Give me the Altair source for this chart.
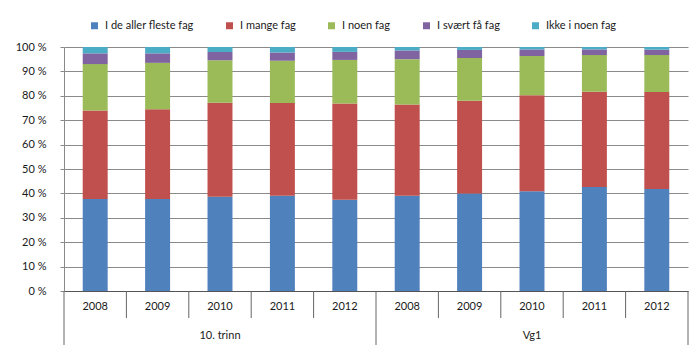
import altair as alt
import pandas as pd

groups = ["10. trinn", "Vg1"]
years = ["2008", "2009", "2010", "2011", "2012"]
categories = ["I de aller fleste fag", "I mange fag", "I noen fag", "I svært få fag", "Ikke i noen fag"]
colors = ["#4F81BD", "#C0504D", "#9BBB59", "#8064A2", "#4BACC6"]

# values per bar, order: 10. trinn 2008..2012, Vg1 2008..2012 (percent)
fleste = [37.7, 37.7, 38.6, 39.0, 37.4, 39.0, 40.0, 40.9, 42.6, 41.8]
mange = [36.3, 36.8, 38.6, 38.0, 39.4, 37.4, 38.0, 39.3, 39.1, 39.8]
noen = [19.0, 19.0, 17.4, 17.4, 17.9, 18.6, 17.5, 16.1, 15.0, 15.1]
svaert = [4.4, 3.9, 3.4, 3.3, 3.3, 3.6, 3.3, 2.7, 2.3, 2.2]
ingen = [2.6, 2.6, 2.0, 2.3, 2.0, 1.4, 1.2, 1.0, 1.0, 1.1]
y_ticks = [0, 10, 20, 30, 40, 50, 60, 70, 80, 90, 100]

series = [fleste, mange, noen, svaert, ingen]
keys = [f"{g} {y}" for g in groups for y in years]

rows = []
for ci, (cat, vals) in enumerate(zip(categories, series)):
    for ki, k in enumerate(keys):
        rows.append({"key": k, "category": cat, "value": vals[ki], "ord": ci})
bars_df = pd.DataFrame(rows)

lab_rows = []
for g in groups:
    for y in years:
        lab_rows.append({"key": f"{g} {y}", "group": g, "year": y, "first": y == years[0],
                         "mid": y == years[len(years) // 2]})
lab_df = pd.DataFrame(lab_rows)

W, H = 624, 244
FONT = "Lato"
x_text = dict(axis=None, scale=alt.Scale(domain=keys, type="point", padding=0.5))
x_rule = dict(axis=None, scale=alt.Scale(domain=keys, type="band", paddingInner=0, paddingOuter=0))

bars = alt.Chart(bars_df).mark_bar().encode(
    x=alt.X("key:N", title=None,
            scale=alt.Scale(domain=keys, paddingInner=0.6, paddingOuter=0.3),
            axis=alt.Axis(labels=False, ticks=False, domainColor="#555555", domainWidth=1)),
    y=alt.Y("value:Q", stack="zero", title=None,
            scale=alt.Scale(domain=[0, 100], nice=False),
            axis=alt.Axis(values=y_ticks, labelExpr="datum.value + ' %'", grid=True,
                          gridColor="#8a8a8a", domainColor="#8a8a8a", tickColor="#8a8a8a",
                          tickSize=4, labelPadding=14, labelFontSize=11, labelFont=FONT,
                          labelColor="#1a1a1a")),
    color=alt.Color("category:N", sort=categories,
                    scale=alt.Scale(domain=categories, range=colors),
                    legend=alt.Legend(title=None, orient="none", direction="horizontal",
                                      legendX=25, legendY=-27, symbolType="square",
                                      symbolSize=49, symbolStrokeWidth=0, labelFontSize=11,
                                      labelFont=FONT, labelColor="#1a1a1a", columnPadding=30,
                                      labelOffset=5)),
    order=alt.Order("ord:Q", sort="ascending"),
)

year_text = alt.Chart(lab_df).mark_text(fontSize=11, font=FONT, color="#1a1a1a", baseline="middle").encode(
    x=alt.X("key:N", **x_text),
    y=alt.value(H + 16),
    text="year:N",
)

group_text = alt.Chart(lab_df).transform_filter("datum.mid").mark_text(
    fontSize=11, font=FONT, color="#1a1a1a", baseline="middle").encode(
    x=alt.X("key:N", **x_text),
    y=alt.value(H + 45),
    text="group:N",
)

short_rules = alt.Chart(lab_df).transform_filter("!datum.first").mark_rule(color="#666666").encode(
    x=alt.X("key:N", bandPosition=0, **x_rule),
    y=alt.value(H),
    y2=alt.value(H + 27),
)

long_rules = alt.Chart(lab_df).transform_filter("datum.first").mark_rule(color="#666666").encode(
    x=alt.X("key:N", bandPosition=0, **x_rule),
    y=alt.value(H),
    y2=alt.value(H + 54),
)

end_rule = alt.Chart(lab_df).transform_filter(f"datum.key == '{keys[-1]}'").mark_rule(color="#666666").encode(
    x=alt.X("key:N", bandPosition=1, **x_rule),
    y=alt.value(H),
    y2=alt.value(H + 54),
)

chart = alt.layer(bars, short_rules, long_rules, end_rule, year_text, group_text).resolve_scale(
    x="independent"
).properties(
    width=W, height=H,
    autosize=alt.AutoSizeParams(type="none"),
    padding={"left": 56, "top": 39, "right": 4, "bottom": 60},
).configure_view(stroke=None)

chart.save("out.html", embed_options={"renderer": "svg", "actions": False})
